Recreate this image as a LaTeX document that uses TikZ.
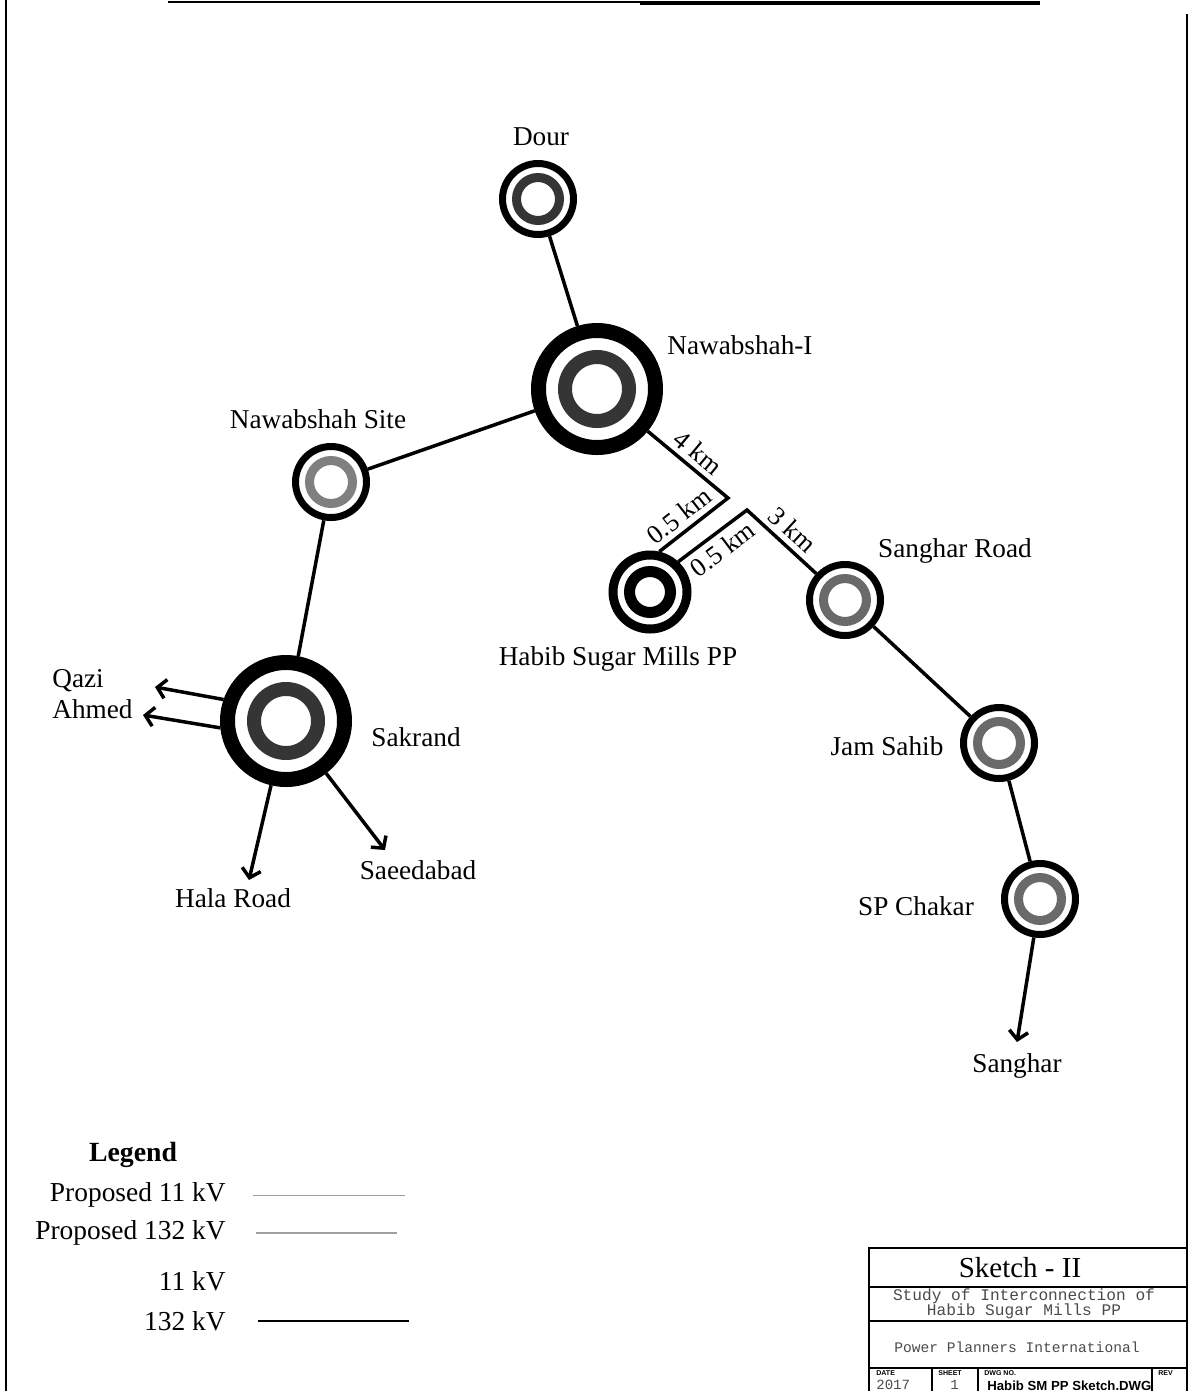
\documentclass[tikz,border=0pt]{standalone}
\usepackage{fontspec}
\setmainfont{Liberation Serif}
\setsansfont{Liberation Sans}
\newfontfamily\cadfont{Liberation Mono}
\usetikzlibrary{arrows.meta,positioning}
\definecolor{coreDark}{HTML}{353535}
\definecolor{coreGrey}{HTML}{6A6A6A}
\definecolor{propGrey}{HTML}{A0A0A0}
\definecolor{cadGrey}{HTML}{4A4A4A}

\begin{document}
\begin{tikzpicture}[
  x=0.2mm,y=-0.2mm,
  font=\fontsize{15.5}{17.5}\selectfont,
  bigstn/.style={circle,draw,line width=3mm,minimum size=23.4mm,inner sep=0pt},
  smallstn/.style={circle,draw,line width=1.4mm,minimum size=14.2mm,inner sep=0pt},
  bigcore/.style={circle,draw=coreDark,line width=2.8mm,minimum size=12.8mm,inner sep=0pt},
  smallcore/.style={circle,draw=coreGrey,line width=1.8mm,minimum size=8.6mm,inner sep=0pt},
  link/.style={line width=0.7mm},
  feeder/.style={link,-{Straight Barb[length=1.7mm,width=3.8mm]}},
  km/.style={sloped,midway,inner sep=3pt,font=\fontsize{15}{17}\selectfont},
  lbl/.style={inner sep=0pt,align=center},
  legtext/.style={anchor=east,inner sep=0pt,font=\fontsize{15.6}{18}\selectfont},
  tb/.style={line width=0.3mm},
  cad/.style={font=\cadfont\fontsize{9.2}{8.6}\selectfont,text=cadGrey,inner sep=0pt},
  tbcap/.style={font=\sffamily\bfseries\fontsize{4}{4}\selectfont,anchor=west,inner sep=0pt}
]
\useasboundingbox (0,0) rectangle (1191,1391);

\draw[line width=0.4mm] (6,0) -- (6,1391);
\draw[line width=0.4mm] (1187,14) -- (1187,1391);
\draw[line width=0.4mm] (168,2) -- (640,2);
\draw[line width=0.8mm] (640,3) -- (1040,3);

\node[smallstn] (dour) at (538,199) {};
\node[smallcore,draw=coreDark] (dourcore) at (dour) {};
\node[bigstn] (nawab1) at (597,389) {};
\node[bigcore] (nawab1core) at (nawab1) {};
\node[smallstn] (nsite) at (331,482) {};
\node[smallcore,draw=coreGrey!85] (nsitecore) at (nsite) {};
\node[bigstn] (sakrand) at (286,721) {};
\node[bigcore] (sakrandcore) at (sakrand) {};
\node[smallstn,line width=1.8mm,minimum size=14.8mm] (habib) at (650,592) {};
\node[smallcore,draw=black,line width=2.2mm,minimum size=8.2mm] (habibcore) at (habib) {};
\node[smallstn] (sroad) at (845,600) {};
\node[smallcore] (sroadcore) at (sroad) {};
\node[smallstn] (jam) at (999,743) {};
\node[smallcore] (jamcore) at (jam) {};
\node[smallstn] (spc) at (1040,899) {};
\node[smallcore] (spccore) at (spc) {};

\node[lbl] (dourlbl) at (541,137) {Dour};
\node[lbl,anchor=west] (nawab1lbl) at (667,345) {Nawabshah-I};
\node[lbl] (nsitelbl) at (318,419) {Nawabshah Site};
\node[lbl] (habiblbl) at (618,659) {Habib Sugar Mills PP};
\node[lbl] (sroadlbl) at (955,551) {Sanghar Road};
\node[lbl] (jamlbl) at (887,746) {Jam Sahib};
\node[lbl] (spclbl) at (916,906) {SP Chakar};
\node[lbl] (sangharlbl) at (1017,1066) {Sanghar};
\node[lbl] (sakrandlbl) at (416,737) {Sakrand};
\node[lbl,align=left,anchor=west] (qazilbl) at (52,694) {Qazi\\Ahmed};
\node[lbl] (halalbl) at (233,898) {Hala Road};
\node[lbl] (saeedlbl) at (418,870) {Saeedabad};

\coordinate (jA) at (728,498);
\coordinate (jB) at (747,510);
\coordinate (qaziA) at (155,687);
\coordinate (qaziB) at (143,715);
\coordinate (halaEnd) at (249,880);
\coordinate (saeedEnd) at (385,850);
\coordinate (sangharEnd) at (1017,1042);

\draw[link] (dour) -- (nawab1);
\draw[link] (nawab1) -- (nsite);
\draw[link] (nsite) -- (sakrand);
\draw[link] (nawab1) -- node[km,above] {4 km} (jA) -- node[km,above,pos=0.57] {0.5 km} (habib.77);
\draw[link] (habib.47) -- node[km,below,pos=0.5] {0.5 km} (jB) -- node[km,above] {3 km} (sroad);
\draw[link] (sroad) -- (jam);
\draw[link] (jam) -- (spc);
\draw[feeder] (spc) -- (sangharEnd);
\draw[feeder] (sakrand.161) -- (qaziA);
\draw[feeder] (sakrand.186) -- (qaziB);
\draw[feeder] (sakrand) -- (halaEnd);
\draw[feeder] (sakrand) -- (saeedEnd);

\node[font=\fontsize{15.8}{18}\selectfont\bfseries] (leghead) at (133,1155) {Legend};
\node[legtext] (legP11) at (226,1195) {Proposed 11 kV};
\node[legtext] (legP132) at (226,1233) {Proposed 132 kV};
\node[legtext] (leg11) at (226,1281) {11 kV};
\node[legtext] (leg132) at (226,1321) {132 kV};
\draw[propGrey,line width=0.2mm] ([xshift=5.4mm]legP11.east) -- ++(152,0);
\draw[propGrey,line width=0.25mm] ([xshift=6mm]legP132.east) -- ++(141,0);
\draw[line width=0.45mm] ([xshift=6.4mm]leg132.east) -- ++(151,0);

\draw[tb] (869,1391) -- (869,1248) -- (1187,1248);
\draw[tb] (869,1287) -- (1187,1287);
\draw[tb] (869,1321) -- (1187,1321);
\draw[tb] (869,1368) -- (1187,1368);
\draw[tb] (932,1368) -- (932,1391);
\draw[tb] (978,1368) -- (978,1391);
\draw[tb] (1152,1368) -- (1152,1391);
\node[font=\fontsize{16.5}{19}\selectfont] (tbtitle) at (1020,1268) {Sketch - II};
\node[cad,align=center] (tbstudy) at (1024,1304) {Study of Interconnection of\\Habib Sugar Mills PP};
\node[cad,font=\cadfont\fontsize{8.3}{9}\selectfont] (tbfirm) at (1017,1347) {Power Planners International};
\node[tbcap] (tbdate) at (876,1373) {DATE};
\node[tbcap] (tbsheet) at (938,1373) {SHEET};
\node[tbcap] (tbdwg) at (984,1373) {DWG NO.};
\node[tbcap] (tbrev) at (1158,1373) {REV};
\node[cad,anchor=west,font=\cadfont\fontsize{8}{9}\selectfont] (tbyear) at (876,1385) {2017};
\node[cad,anchor=west,font=\cadfont\fontsize{8}{9}\selectfont] (tbsheetno) at (950,1385) {1};
\node[anchor=west,inner sep=0pt,font=\sffamily\bfseries\fontsize{7.5}{9}\selectfont] (tbfile) at (987,1386) {Habib SM PP Sketch.DWG};
\end{tikzpicture}
\end{document}
